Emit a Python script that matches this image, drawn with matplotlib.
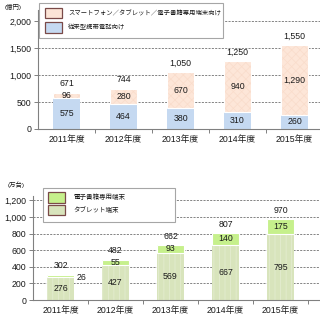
import matplotlib
matplotlib.use("Agg")
import matplotlib.pyplot as plt
from matplotlib.patches import Rectangle
from matplotlib.ticker import FuncFormatter, FixedLocator

plt.rcParams['font.family'] = ['Liberation Sans', 'Noto Sans CJK JP', 'DejaVu Sans']
plt.rcParams['hatch.linewidth'] = 0.5

# ---- data ----
years = ['2011年度', '2012年度', '2013年度', '2014年度', '2015年度']
rev_feature = [575, 464, 380, 310, 260]          # 従来型携帯電話向け
rev_smart = [96, 280, 670, 940, 1290]            # スマートフォン／タブレット／電子書籍専用端末向け
rev_total = [671, 744, 1050, 1250, 1550]
units_tablet = [276, 427, 569, 667, 795]         # タブレット端末
units_ereader = [26, 55, 93, 140, 175]           # 電子書籍専用端末
units_total = [302, 482, 662, 807, 970]

top_legend = ['スマートフォン／タブレット／電子書籍専用端末向け', '従来型携帯電話向け']
bot_legend = ['電子書籍専用端末', 'タブレット端末']

W, H = 320, 320
fig = plt.figure(figsize=(3.2, 3.2), dpi=100)

def fx(px):
    return px / W

def fy(py):
    return (H - py) / H

TXT = '#1a1a1a'
GRAY = '#808080'
FS = 6.3

def style_axes(ax, yticks, ymax):
    ax.set_xlim(-0.5, 5.5)
    ax.set_ylim(0, ymax)
    ax.set_yticks(yticks)
    ax.yaxis.set_major_formatter(FuncFormatter(lambda v, p: f'{int(v):,}'))
    ax.set_xticks(range(len(years)))
    ax.set_xticklabels(years)
    ax.xaxis.set_minor_locator(FixedLocator([0.5, 1.5, 2.5, 3.5, 4.5, 5.5]))
    ax.tick_params(axis='x', which='major', length=0, pad=4, labelsize=FS, labelcolor=TXT)
    ax.tick_params(axis='x', which='minor', length=3, width=0.7, color=GRAY, direction='out')
    ax.tick_params(axis='y', which='major', length=3, width=0.7, color=GRAY,
                   direction='out', labelsize=FS, labelcolor=TXT, pad=2)
    for s in ['top', 'right']:
        ax.spines[s].set_visible(False)
    for s in ['left', 'bottom']:
        ax.spines[s].set_color(GRAY)
        ax.spines[s].set_linewidth(0.8)
    ax.yaxis.grid(True, linestyle=(0, (2.5, 1.5)), color='#707070', linewidth=0.6)
    ax.set_axisbelow(True)

# ---- top chart ----
ax1 = fig.add_axes([fx(38), fy(129), 342 / W, 118.8 / H])
x = list(range(len(years)))
bw = 0.49
ax1.bar(x, rev_feature, width=bw, color='#c5d9f1', linewidth=0, zorder=2)
ax1.bar(x, rev_smart, width=bw, bottom=rev_feature, color='#fde6d8',
        edgecolor='#f9dccb', hatch='xxxx', linewidth=0, zorder=2)
ax1.bar(x, rev_smart, width=bw, bottom=rev_feature, fill=False,
        edgecolor='white', linewidth=0.8, zorder=3)
style_axes(ax1, [0, 500, 1000, 1500, 2000], 2200)
for i in x:
    ax1.text(i, rev_feature[i] / 2, f'{rev_feature[i]:,}', ha='center', va='center',
             fontsize=FS, color=TXT, zorder=4)
    ax1.text(i, rev_feature[i] + rev_smart[i] / 2, f'{rev_smart[i]:,}', ha='center',
             va='center', fontsize=FS, color=TXT, zorder=4)
    ax1.annotate(f'{rev_total[i]:,}', (i, rev_total[i]), xytext=(0, 9),
                 textcoords='offset pixels', ha='center', va='center',
                 fontsize=FS, color=TXT)

# ---- bottom chart ----
ax2 = fig.add_axes([fx(33), fy(300), 330 / W, 1250 * 0.083 / H])
bw2 = 0.5
ax2.bar(x, units_tablet, width=bw2, color='#d8e4bc', edgecolor='#e6eed4',
        hatch='|||', linewidth=0, zorder=2)
ax2.bar(x, units_ereader, width=bw2, bottom=units_tablet, color='#c6f08c',
        linewidth=0, zorder=2)
ax2.bar(x, units_ereader, width=bw2, bottom=units_tablet, fill=False,
        edgecolor='white', linewidth=0.8, zorder=3)
style_axes(ax2, [0, 200, 400, 600, 800, 1000, 1200], 1250)
for i in x:
    ax2.text(i, units_tablet[i] / 2, f'{units_tablet[i]:,}', ha='center', va='center',
             fontsize=FS, color=TXT, zorder=4)
    mid = units_tablet[i] + units_ereader[i] / 2
    if units_ereader[i] < 40:
        ax2.annotate(f'{units_ereader[i]:,}', (i + bw2 / 2, mid - 13), xytext=(2, 0),
                     textcoords='offset pixels', ha='left', va='center',
                     fontsize=FS, color=TXT, zorder=4)
    else:
        ax2.text(i, mid, f'{units_ereader[i]:,}', ha='center', va='center',
                 fontsize=FS, color=TXT, zorder=4)
    ax2.annotate(f'{units_total[i]:,}', (i, units_total[i]), xytext=(0, 9),
                 textcoords='offset pixels', ha='center', va='center',
                 fontsize=FS, color=TXT)

# ---- unit labels ----
fig.text(fx(13), fy(7), '(億円)', ha='center', va='center', fontsize=4.6, color=TXT)
fig.text(fx(16), fy(185), '(万台)', ha='center', va='center', fontsize=4.6, color=TXT)

# ---- legends ----
def legend_box(x0, y0, x1, y1):
    fig.add_artist(Rectangle((fx(x0), fy(y1)), (x1 - x0) / W, (y1 - y0) / H,
                             transform=fig.transFigure, facecolor='white',
                             edgecolor='#a6a6a6', linewidth=0.8, zorder=5))

def legend_item(x0, y0, x1, y1, color, label, tx, fs):
    fig.add_artist(Rectangle((fx(x0), fy(y1)), (x1 - x0) / W, (y1 - y0) / H,
                             transform=fig.transFigure, facecolor=color,
                             edgecolor='#7a4a48', linewidth=0.9, zorder=6))
    fig.text(fx(tx), fy((y0 + y1) / 2), label, ha='left', va='center',
             fontsize=fs, color=TXT, zorder=7)

legend_box(39, 3, 223, 38)
legend_item(45, 8, 62, 18, '#fce4d6', top_legend[0], 68, 4.55)
legend_item(45, 22, 62, 33, '#c5d9f1', top_legend[1], 68, 4.55)

legend_box(43, 188, 175, 222)
legend_item(48, 192, 65, 203, '#c6f08c', bot_legend[0], 73, 4.7)
legend_item(48, 205, 65, 215, '#d8e4bc', bot_legend[1], 73, 4.7)

fig.savefig('out.png', dpi=100)
